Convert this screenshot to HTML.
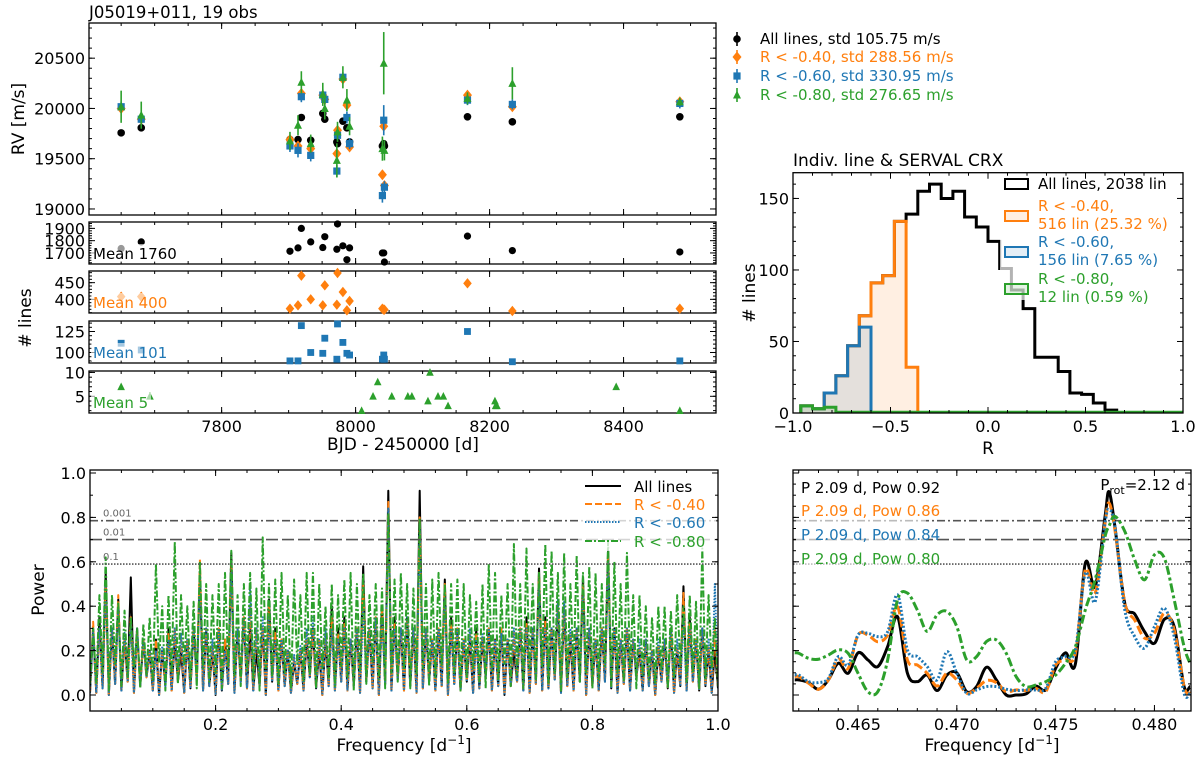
<!DOCTYPE html>
<html><head><meta charset="utf-8">
<style>
html,body{margin:0;padding:0;background:#fff;}
svg{display:block;font-family:"DejaVu Sans","Liberation Sans",sans-serif;}
</style></head>
<body>
<svg id="fig" width="1200" height="762" viewBox="0 0 1200 762" xmlns="http://www.w3.org/2000/svg">
<defs>
<clipPath id="clipL"><rect x="90" y="470" width="628" height="241"/></clipPath>
<clipPath id="clipR"><rect x="793" y="470" width="398" height="241"/></clipPath>
<clipPath id="clipH"><rect x="793" y="172" width="390" height="241"/></clipPath>
</defs>
<text x="89" y="18" font-size="16.5">J05019+011, 19 obs</text>
<text x="793" y="166" font-size="17">Indiv. line &amp; SERVAL CRX</text>
<text transform="translate(24,119) rotate(-90)" text-anchor="middle" font-size="17">RV [m/s]</text>
<text transform="translate(31,318) rotate(-90)" text-anchor="middle" font-size="17"># lines</text>
<text x="403" y="450" text-anchor="middle" font-size="17">BJD - 2450000 [d]</text>
<text transform="translate(755,293) rotate(-90)" text-anchor="middle" font-size="17"># lines</text>
<text x="988" y="454" text-anchor="middle" font-size="17">R</text>
<text transform="translate(44,590) rotate(-90)" text-anchor="middle" font-size="17">Power</text>
<text x="404" y="751" text-anchor="middle" font-size="17">Frequency [d<tspan dy="-7" font-size="12">−1</tspan><tspan dy="7">]</tspan></text>
<text x="992" y="751" text-anchor="middle" font-size="17">Frequency [d<tspan dy="-7" font-size="12">−1</tspan><tspan dy="7">]</tspan></text>
<g id="legendRV" font-size="15">
<text x="760" y="44" fill="#000">All lines, std 105.75 m/s</text>
<text x="760" y="62" fill="#ff7f0e">R &lt; -0.40, std 288.56 m/s</text>
<text x="760" y="81" fill="#1f77b4">R &lt; -0.60, std 330.95 m/s</text>
<text x="760" y="100" fill="#2ca02c">R &lt; -0.80, std 276.65 m/s</text>
</g>
</svg>
<script>
// ---------- data ----------
const rvDates = [7650,7680,7902,7914,7919,7933,7951,7954,7972,7973,7981,7987,7991,8040,8042,8043,8167,8234,8484];
const rvAll  = [19757,19807,19690,19690,19910,19683,19950,19893,19667,19650,19873,19807,19667,19627,19650,19627,19917,19867,19917];
const rvR040 = [20000,19893,19690,19627,20150,19600,20133,20090,19550,19783,20293,20033,19617,19340,19823,19233,20133,20017,20067];
const rvR060 = [20017,19893,19627,19583,20117,19533,20133,20090,19377,19733,20310,19910,19650,19133,19883,19217,20083,20040,20050];
const rvR080 = [20017,19933,19677,19833,20260,19650,20140,20000,19483,19767,20310,20083,19823,19600,20450,19583,20100,20250,20067];
const errAll  = [15,15,15,15,15,15,15,15,15,15,15,15,15,15,15,15,15,15,15];
const errR040 = [35,35,35,35,40,35,35,35,40,35,35,40,35,40,40,40,35,35,35];
const errR060 = [50,60,60,70,55,60,55,50,60,50,50,60,55,70,150,60,50,50,50];
const errR080 = [160,135,90,100,110,90,115,110,170,100,110,110,90,120,310,100,60,160,40];
const nAll  = [1736,1790,1714,1741,1900,1790,1744,1832,1730,1936,1758,1645,1741,1700,1700,1626,1837,1719,1708];
const nR040 = [408,408,372,382,471,400,382,442,384,479,422,367,395,372,369,369,448,365,372];
const nR060 = [111,103,90,90,132,100,99,117,92,134,112,99,97,92,97,92,125,89,90];
const greenDates = [7650,7693,8009,8026,8033,8054,8078,8084,8108,8111,8123,8131,8138,8208,8209,8211,8389,8484];
const nR080 = [7,5,2,5,8,5,5,5,4,10,5,5,3,4,3,3,7,2];

const histEdges0 = -0.96, histWidth = 0.06;
const histAll  = [5,3,14,26,47,68,91,96,134,139,155,160,150,155,137,130,120,101,86,73,39,39,29,14,13,7,2];
const histR040 = [5,3,14,26,47,68,91,96,134,32];
const histR060 = [5,3,14,26,47,60];
const histR080 = [5,3,4];

const pgPeakAll = [.3,.35,.55,.3,.43,.25,.53,.3,.25,.2, .25,.2,.3,.25,.2,.25,.3,.55,.3,.2, .3,.25,.64,.3,.35,.3,.2,.3,.43,.3, .25,.2,.15,.2,.25,.3,.2,.25,.4,.3, .35,.25,.3,.58,.3,.35,.4,.92,.35,.3, .35,.3,.92,.3,.25,.3,.52,.35,.3,.25, .25,.3,.25,.3,.25,.3,.25,.2,.3,.35, .3,.57,.35,.3,.4,.38,.25,.3,.53,.3, .25,.3,.65,.3,.25,.3,.25,.2,.25,.2, .2,.25,.3,.2,.49,.35,.25,.3,.2,.2];
const pgPeakR040 = [.33,.3,.5,.3,.45,.25,.35,.28,.25,.2, .25,.2,.28,.3,.25,.25,.3,.61,.3,.22, .3,.25,.58,.3,.35,.4,.3,.3,.4,.28, .25,.2,.17,.2,.28,.3,.25,.28,.35,.28, .32,.25,.3,.5,.3,.35,.38,.87,.32,.3, .33,.3,.8,.3,.25,.3,.5,.32,.3,.25, .28,.28,.26,.3,.25,.3,.25,.28,.3,.32, .3,.55,.33,.3,.42,.4,.28,.3,.5,.3, .25,.3,.63,.3,.25,.3,.25,.22,.25,.2, .22,.25,.3,.22,.46,.32,.25,.3,.22,.3];
const pgPeakR060 = [.3,.3,.5,.3,.4,.28,.32,.3,.25,.2, .2,.22,.25,.3,.28,.25,.3,.55,.3,.25, .3,.2,.55,.3,.35,.49,.3,.35,.35,.25, .25,.2,.18,.22,.3,.35,.25,.3,.3,.25, .3,.25,.3,.4,.3,.35,.35,.84,.3,.3, .35,.3,.77,.3,.25,.3,.45,.3,.3,.25, .3,.25,.28,.3,.25,.28,.25,.3,.3,.3, .3,.5,.3,.3,.43,.42,.3,.3,.46,.3, .25,.3,.6,.3,.25,.3,.25,.25,.25,.2, .25,.25,.3,.25,.35,.3,.25,.3,.25,.5];
const pgPeakR080 = [.3,.45,.62,.45,.42,.38,.35,.3,.32,.35, .59,.4,.45,.69,.45,.4,.42,.6,.5,.45, .5,.55,.65,.45,.5,.55,.48,.71,.5,.52, .55,.45,.52,.45,.55,.55,.5,.4,.5,.45, .52,.55,.5,.55,.45,.5,.48,.82,.52,.55, .5,.48,.79,.5,.52,.55,.5,.5,.52,.5, .45,.42,.5,.59,.55,.45,.5,.68,.5,.66, .5,.55,.68,.65,.55,.64,.5,.63,.55,.58, .55,.5,.69,.6,.5,.64,.45,.45,.4,.35, .4,.4,.38,.45,.4,.45,.42,.66,.45,.35];
const pgLow = [.01,.03,.0,.05,.02,.06,.01,.04,.08,.02, .0,.04,.02,.06,.01,.03,.07,.02,.04,.0, .02,.05,.01,.06,.03,.02,.04,.0,.06,.02, .04,.01,.05,.02,.08,.03,.0,.04,.02,.06, .02,.04,.01,.06,.03,.0,.05,.02,.07,.02, .04,.01,.03,.06,.02,.04,.0,.05,.02,.06, .01,.03,.08,.02,.04,.0,.04,.06,.02,.01, .05,.02,.03,.07,.01,.04,.02,.06,.0,.04, .02,.06,.03,.01,.05,.02,.08,.02,.04,.0, .06,.03,.01,.04,.02,.06,.02,.04,.01,.03];
const pgLowR080 = [.05,.1,.02,.14,.04,.08,.12,.03,.09,.06, .15,.02,.1,.05,.13,.07,.03,.12,.06,.1, .03,.13,.08,.04,.11,.07,.02,.12,.08,.05, .1,.03,.14,.06,.09,.03,.12,.07,.04,.13, .08,.02,.11,.05,.15,.07,.03,.1,.06,.12, .03,.09,.12,.04,.08,.13,.05,.1,.02,.08, .12,.06,.03,.11,.07,.14,.04,.09,.03,.12, .07,.13,.05,.1,.02,.08,.12,.06,.1,.03, .07,.13,.04,.1,.06,.12,.03,.09,.07,.05, .11,.03,.08,.13,.06,.1,.03,.07,.12,.04];
const fapLevels = [0.785, 0.70, 0.59];
const fapLabels = ["0.001","0.01","0.1"];

const zoomFreq = [0.4618,0.462,0.4625,0.463,0.4635,0.464,0.4645,0.465,0.4655,0.466,0.4665,0.467,0.4675,0.468,0.4685,0.469,0.4695,0.470,0.4705,0.471,0.4715,0.472,0.4725,0.473,0.4735,0.474,0.4745,0.475,0.4755,0.476,0.4765,0.477,0.4775,0.4777,0.478,0.4785,0.479,0.4795,0.480,0.4805,0.481,0.4815,0.4818];
const zoomAll  = [.068,.068,.056,.026,.068,.143,.098,.19,.158,.128,.218,.353,.098,.06,.09,.02,.09,.10,.015,.038,.125,.068,0,0,.005,.04,.023,.12,.19,.14,.593,.488,.803,.916,.758,.413,.365,.285,.233,.341,.308,.038,.038];
const zoomR040 = [.083,.083,.053,.026,.068,.162,.12,.27,.27,.24,.27,.398,.158,.135,.098,.04,.098,.068,.008,.03,.065,.056,.015,.023,.02,.03,.015,.135,.158,.188,.564,.459,.774,.865,.744,.414,.338,.256,.278,.368,.293,.038,.008];
const zoomR060 = [.09,.09,.06,.056,.075,.173,.135,.27,.278,.263,.285,.451,.203,.173,.128,.068,.195,.098,.008,.023,.038,.038,.026,.02,.023,.023,.03,.15,.173,.203,.549,.421,.774,.835,.759,.383,.263,.211,.308,.391,.263,.008,.008];
const zoomR080 = [.19,.188,.165,.161,.18,.203,.188,.098,.015,.015,.158,.429,.459,.383,.286,.361,.376,.308,.158,.173,.241,.248,.188,.083,.038,.045,.06,.09,.143,.218,.383,.519,.714,.76,.805,.737,.609,.519,.632,.617,.429,.218,.143];

// ---------- helpers ----------
const NS = "http://www.w3.org/2000/svg";
const svg = document.getElementById('fig');
function mk(tag, attrs, parent){
  const e = document.createElementNS(NS, tag);
  for (const k in attrs) e.setAttribute(k, attrs[k]);
  (parent || svg).appendChild(e);
  return e;
}
function lin(d0,d1,r0,r1){ return v => r0 + (v-d0)*(r1-r0)/(d1-d0); }
function range(a,b,s){ const o=[]; for(let v=a; v<=b+s*1e-6; v+=s) o.push(+v.toFixed(6)); return o; }
const C = {k:'#000', o:'#ff7f0e', b:'#1f77b4', g:'#2ca02c'};

function frame(b, name){
  const r = mk('rect', {x:b.x0, y:b.y0, width:b.x1-b.x0, height:b.y1-b.y0, fill:'none', stroke:'#000', 'stroke-width':1.3});
  
  
}
function xTicks(b, sx, vals, len, labels, fs){
  vals.forEach(v => {
    const x = sx(v);
    if (x < b.x0-0.5 || x > b.x1+0.5) return;
    const t1 = mk('line', {x1:x, x2:x, y1:b.y1, y2:b.y1-len, stroke:'#000', 'stroke-width':1});
    
    
    const t2 = mk('line', {x1:x, x2:x, y1:b.y0, y2:b.y0+len, stroke:'#000', 'stroke-width':1});
    
    
    if (labels){
      const t = mk('text', {x:x, y:b.y1+19, 'text-anchor':'middle', 'font-size':fs||16});
      t.textContent = labels(v);
      
      
    }
  });
}
function yTicks(b, sy, vals, len, labels, fs){
  vals.forEach(v => {
    const y = sy(v);
    if (y < b.y0-0.5 || y > b.y1+0.5) return;
    const t1 = mk('line', {x1:b.x0, x2:b.x0+len, y1:y, y2:y, stroke:'#000', 'stroke-width':1});
    
    
    const t2 = mk('line', {x1:b.x1, x2:b.x1-len, y1:y, y2:y, stroke:'#000', 'stroke-width':1});
    
    
    if (labels){
      const t = mk('text', {x:b.x0-4, y:y+6, 'text-anchor':'end', 'font-size':fs||16});
      t.textContent = labels(v);
      
      
    }
  });
}
function marker(kind, x, y, color, g, s){
  s = s || 1;
  let e;
  if (kind === 'k') e = mk('circle', {cx:x, cy:y, r:3.8*s, fill:color}, g);
  else if (kind === 'o') e = mk('polygon', {points:`${x},${y-5.5*s} ${x+4.5*s},${y} ${x},${y+5.5*s} ${x-4.5*s},${y}`, fill:color}, g);
  else if (kind === 'b') e = mk('rect', {x:x-3.6*s, y:y-3.6*s, width:7.2*s, height:7.2*s, fill:color}, g);
  else e = mk('polygon', {points:`${x},${y-4.5*s} ${x+4*s},${y+3.5*s} ${x-4*s},${y+3.5*s}`, fill:color}, g);
  return e;
}

// ---------- top-left RV panel ----------
const xB = lin(7602, 8538, 89, 716);
const bRV = {x0:89, y0:23, x1:716, y1:215};
const yRV = lin(18940, 20850, 215, 23);
frame(bRV, 'rv-plot-frame');
xTicks(bRV, xB, range(7650, 8500, 50), 3);
xTicks(bRV, xB, range(7800, 8400, 200), 6);
yTicks(bRV, yRV, range(19000, 20800, 100), 3);
yTicks(bRV, yRV, range(19000, 20500, 500), 6, v => v);
const gRV = mk('g', {});


const rvSeries = [['k', rvAll, errAll], ['o', rvR040, errR040], ['b', rvR060, errR060], ['g', rvR080, errR080]];
rvSeries.forEach(([key, vals, errs]) => {
  vals.forEach((v, i) => {
    const x = xB(rvDates[i]);
    const eb = mk('line', {x1:x, x2:x, y1:yRV(v-errs[i]), y2:yRV(v+errs[i]), stroke:C[key], 'stroke-width':1.6}, gRV);
    
    
    const m = marker(key, x, yRV(v), C[key], gRV);
    
    
  });
});
[['k',39],['o',57],['b',76],['g',95]].forEach(([k, y]) => {
  const l = mk('line', {x1:737, x2:737, y1:y-7, y2:y+7, stroke:C[k], 'stroke-width':1.6});
  
  
  const m = marker(k, 737, y, C[k], svg);
  
  
});

// ---------- line-count panels ----------
const countPanels = [
  {b:{x0:89,y0:222,x1:716,y1:264}, dom:[1610,1952], minor:20, major:[1700,1800,1900], key:'k', dates:rvDates, vals:nAll, mean:'Mean 1760', name:'nlines-all-panel'},
  {b:{x0:89,y0:271,x1:716,y1:313}, dom:[359,485], minor:10, major:[400,450], key:'o', dates:rvDates, vals:nR040, mean:'Mean 400', name:'nlines-r040-panel'},
  {b:{x0:89,y0:321,x1:716,y1:363}, dom:[87.5,137.5], minor:5, major:[100,125], key:'b', dates:rvDates, vals:nR060, mean:'Mean 101', name:'nlines-r060-panel'},
  {b:{x0:89,y0:371,x1:716,y1:413}, dom:[1.5,10.3], minor:1, major:[5,10], key:'g', dates:greenDates, vals:nR080, mean:'Mean 5', name:'nlines-r080-panel'}
];
countPanels.forEach((p, idx) => {
  const sy = lin(p.dom[0], p.dom[1], p.b.y1, p.b.y0);
  frame(p.b, p.name);
  xTicks(p.b, xB, range(7650, 8500, 50), 3, null);
  xTicks(p.b, xB, range(7800, 8400, 200), 6, idx === 3 ? (v => v) : null);
  const mn = Math.ceil(p.dom[0]/p.minor)*p.minor;
  yTicks(p.b, sy, range(mn, p.dom[1], p.minor), 3);
  yTicks(p.b, sy, p.major, 6, v => v);
  p.vals.forEach((v, i) => {
    const m = marker(p.key, xB(p.dates[i]), sy(v), C[p.key], svg, 0.95);
    
    
  });
  const bg = mk('rect', {x:p.b.x0+2, y:p.b.y1-20, width:p.mean.length*9+6, height:18, fill:'#fff', 'fill-opacity':0.6});
  
  
  const mt = mk('text', {x:p.b.x0+4, y:p.b.y1-5, 'font-size':15, fill:C[p.key]});
  mt.textContent = p.mean;
  
  
});

// ---------- histogram ----------
const bH = {x0:793, y0:172.7, x1:1183, y1:413};
const hx = lin(-1, 1, 793, 1183);
const hy = lin(0, 168, 413, 172.7);
function stepPath(counts){
  let d = `M${hx(histEdges0)},${hy(0)}`;
  counts.forEach((c, i) => {
    const a = histEdges0 + i*histWidth, b = a + histWidth;
    d += ` L${hx(a)},${hy(c)} L${hx(b)},${hy(c)}`;
  });
  d += ` L${hx(histEdges0 + counts.length*histWidth)},${hy(0)}`;
  return d;
}
const gH = mk('g', {'clip-path':'url(#clipH)'});


const hk = mk('path', {d:stepPath(histAll), fill:'none', stroke:'#000', 'stroke-width':3}, gH);


const ho = mk('path', {d:stepPath(histR040), fill:'rgba(255,127,14,0.12)', stroke:C.o, 'stroke-width':3}, gH);


const hb = mk('path', {d:stepPath(histR060), fill:'rgba(31,119,180,0.12)', stroke:C.b, 'stroke-width':3}, gH);


const hg = mk('path', {d:stepPath(histR080), fill:'rgba(44,160,44,0.12)', stroke:C.g, 'stroke-width':3}, gH);


const hz = mk('line', {x1:hx(-0.78), x2:hx(1), y1:hy(0)-1, y2:hy(0)-1, stroke:C.g, 'stroke-width':2.5}, gH);


const lgBg = mk('rect', {x:1000, y:176, width:180, height:124, fill:'#fff', 'fill-opacity':0.7});


frame(bH, 'hist-frame');
xTicks(bH, hx, range(-1, 1, 0.1), 3);
xTicks(bH, hx, range(-1, 1, 0.5), 6, v => v.toFixed(1).replace('-', '−'));
yTicks(bH, hy, range(0, 160, 10), 3);
yTicks(bH, hy, [0, 50, 100, 150], 6, v => v);
const histLegend = [
  [184, '#000', 'rgba(0,0,0,0)', ['All lines, 2038 lin'], '#000'],
  [216, C.o, 'rgba(255,127,14,0.12)', ['R < -0.40,', '516 lin (25.32 %)'], C.o],
  [252, C.b, 'rgba(31,119,180,0.12)', ['R < -0.60,', '156 lin (7.65 %)'], C.b],
  [289, C.g, 'rgba(44,160,44,0.12)', ['R < -0.80,', '12 lin (0.59 %)'], C.g]
];
histLegend.forEach(([y, sc, fc, lines, tc]) => {
  const p = mk('rect', {x:1005, y:y-5, width:23, height:10, fill:fc, stroke:sc, 'stroke-width':2});
  
  
  lines.forEach((s, j) => {
    const t = mk('text', {x:1038, y:(lines.length === 1 ? y+5 : y-5+j*18), 'font-size':15, fill:tc});
    t.textContent = s;
    
    
  });
});

// ---------- left periodogram ----------
const bL = {x0:90, y0:470, x1:718, y1:711};
const px = lin(0, 1, 90, 718);
const py = lin(0, 1, 695, 473);
function spikePath(peaks, lows){
  let d = `M${px(0)},${py(lows[0])}`;
  peaks.forEach((v, i) => {
    const f = 0.005 + 0.01*i;
    d += ` L${px(f)},${py(v)} L${px(f+0.005)},${py(lows[i])}`;
  });
  return d;
}
const gL = mk('g', {'clip-path':'url(#clipL)'});


const pgStyles = [
  [pgPeakAll, pgLow, C.k, '', 'pg-all-lines'],
  [pgPeakR040, pgLow, C.o, '7,3', 'pg-r040'],
  [pgPeakR060, pgLow, C.b, '1.5,1.5', 'pg-r060'],
  [pgPeakR080, pgLowR080, C.g, '7,2,2,2', 'pg-r080']
];
pgStyles.forEach(([pk, lw, col, dash, nm]) => {
  const p = mk('path', {d:spikePath(pk, lw), fill:'none', stroke:col, 'stroke-width':2, 'stroke-dasharray':dash, 'stroke-linejoin':'round'}, gL);
  
  
});
const fapDash = ['8,3,2,3', '12,4', '1.5,1.5'];
function fapLines(b, g, labels){
  fapLevels.forEach((lv, i) => {
    const l = mk('line', {x1:b.x0, x2:b.x1, y1:py(lv), y2:py(lv), stroke:'#555', 'stroke-width':1.6, 'stroke-dasharray':fapDash[i]}, g);
    
    
    if (labels){
      const t = mk('text', {x:103, y:py(lv)-4, 'font-size':10, fill:'#666'});
      t.textContent = fapLabels[i];
      
      
    }
  });
}
fapLines(bL, svg, true);
const pgLegBg = mk('rect', {x:578, y:473, width:138, height:78, fill:'#fff', 'fill-opacity':0.75});


frame(bL, 'periodogram-left-frame');
xTicks(bL, px, range(0.05, 1, 0.05), 3);
xTicks(bL, px, [0.2, 0.4, 0.6, 0.8, 1.0], 6, v => v.toFixed(1));
yTicks(bL, py, range(0, 1, 0.1), 3);
yTicks(bL, py, [0, 0.2, 0.4, 0.6, 0.8, 1.0], 6, v => v.toFixed(1));
[[486, C.k, '', 'All lines'], [504, C.o, '7,3', 'R < -0.40'], [522, C.b, '1.5,1.5', 'R < -0.60'], [541, C.g, '7,2,2,2', 'R < -0.80']].forEach(([y, c, d, s]) => {
  const l = mk('line', {x1:585, x2:621, y1:y, y2:y, stroke:c, 'stroke-width':2, 'stroke-dasharray':d});
  
  
  const t = mk('text', {x:634, y:y+6, 'font-size':15, fill:c});
  t.textContent = s;
  
  
});

// ---------- right zoomed periodogram ----------
const bR = {x0:793, y0:470, x1:1191, y1:711};
const zx = lin(0.46171, 0.48185, 793, 1191);
function smooth(xs, ys){
  const P = xs.map((f, i) => [zx(f), py(ys[i])]);
  let d = `M${P[0][0]},${P[0][1]}`;
  for (let i = 0; i < P.length-1; i++){
    const p0 = P[Math.max(0,i-1)], p1 = P[i], p2 = P[i+1], p3 = P[Math.min(P.length-1,i+2)];
    const c1 = [p1[0]+(p2[0]-p0[0])/6, p1[1]+(p2[1]-p0[1])/6];
    const c2 = [p2[0]-(p3[0]-p1[0])/6, p2[1]-(p3[1]-p1[1])/6];
    d += ` C${c1[0]},${c1[1]} ${c2[0]},${c2[1]} ${p2[0]},${p2[1]}`;
  }
  return d;
}
fapLines(bR, svg, false);
const gR = mk('g', {'clip-path':'url(#clipR)'});


[[zoomAll, C.k, '', 'zoom-all-lines'], [zoomR040, C.o, '9,4', 'zoom-r040'], [zoomR060, C.b, '2,2', 'zoom-r060'], [zoomR080, C.g, '9,3,3,3', 'zoom-r080']].forEach(([vals, c, d, nm]) => {
  const p = mk('path', {d:smooth(zoomFreq, vals), fill:'none', stroke:c, 'stroke-width':3, 'stroke-dasharray':d}, gR);
  
  
});
const txtBg = mk('rect', {x:796, y:474, width:130, height:94, fill:'#fff', 'fill-opacity':0.6});


frame(bR, 'periodogram-right-frame');
xTicks(bR, zx, range(0.462, 0.481, 0.001), 3);
xTicks(bR, zx, [0.465, 0.470, 0.475, 0.480], 6, v => v.toFixed(3));
yTicks(bR, py, range(0, 1, 0.05), 3);
yTicks(bR, py, range(0, 1, 0.2), 6);
[[493, C.k, 'P 2.09 d, Pow 0.92'], [516, C.o, 'P 2.09 d, Pow 0.86'], [540, C.b, 'P 2.09 d, Pow 0.84'], [564, C.g, 'P 2.09 d, Pow 0.80']].forEach(([y, c, s]) => {
  const t = mk('text', {x:801, y:y, 'font-size':15, fill:c});
  t.textContent = s;
  
  
});
const pr = mk('text', {x:1185, y:490, 'font-size':15, 'text-anchor':'end'});
pr.innerHTML = 'P<tspan font-size="11" dy="4">rot</tspan><tspan dy="-4">=2.12 d</tspan>';


</script>
</body></html>
